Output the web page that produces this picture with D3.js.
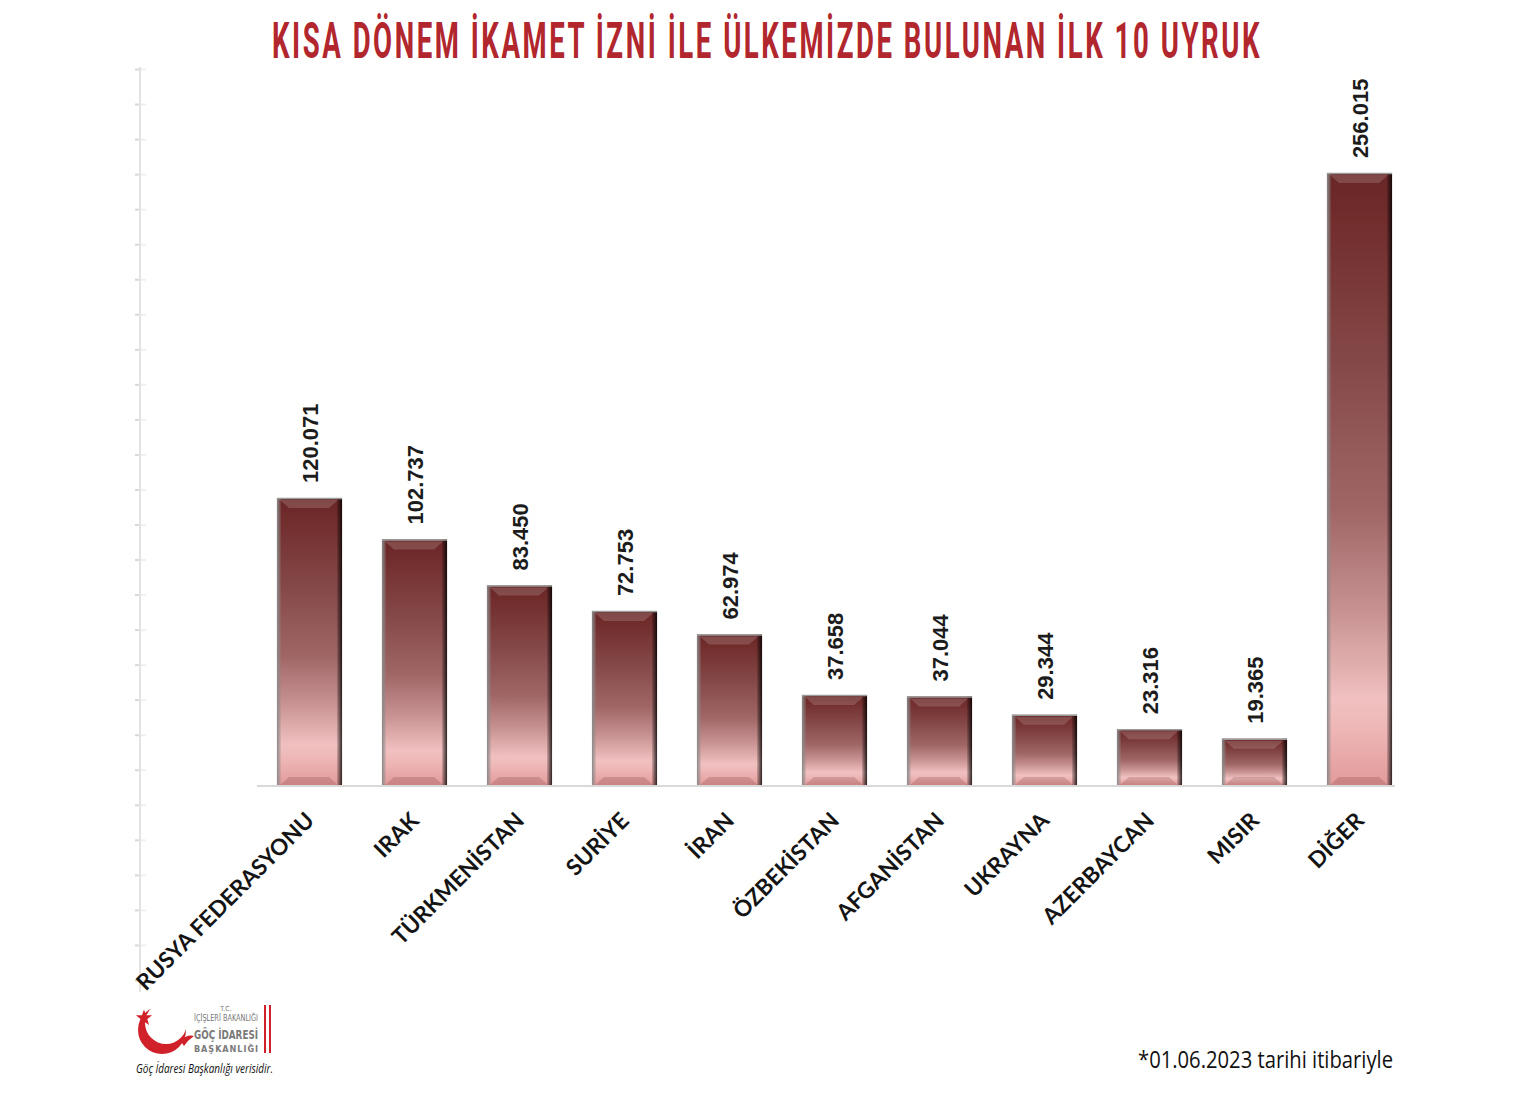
<!DOCTYPE html>
<html>
<head>
<meta charset="utf-8">
<script src="https://cdn.jsdelivr.net/npm/d3@7"></script>
<style>
  html, body { margin: 0; padding: 0; background: #ffffff; }
  svg { display: block; }
</style>
</head>
<body>
<svg id="chart" width="1530" height="1107"></svg>
<script>
// ---------- data ----------
const categories = ["RUSYA FEDERASYONU", "IRAK", "TÜRKMENİSTAN", "SURİYE", "İRAN",
  "ÖZBEKİSTAN", "AFGANİSTAN", "UKRAYNA", "AZERBAYCAN", "MISIR", "DİĞER"];
const values = [120071, 102737, 83450, 72753, 62974, 37658, 37044, 29344, 23316, 19365, 256015];
const decoTicks = d3.range(0, 27); // decorative left axis tick positions (no labels)

const titleText = "KISA DÖNEM İKAMET İZNİ İLE ÜLKEMİZDE BULUNAN İLK 10 UYRUK";
const footnoteText = "*01.06.2023 tarihi itibariyle";
const sourceText = "Göç İdaresi Başkanlığı verisidir.";

const data = categories.map((c, i) => ({ cat: c, val: values[i] }));

// ---------- setup ----------
const svg = d3.select("#chart");
const fmt = d3.formatLocale({ decimal: ",", thousands: ".", grouping: [3], currency: ["", ""] }).format(",d");

const x = d3.scaleBand().domain(categories).range([257, 1412]).paddingInner(0.38).paddingOuter(0.19);
const y = d3.scaleLinear().domain([0, 300000]).range([785, 68]);
const yDeco = d3.scaleLinear().domain([0, 26]).range([980, 69]);

// ---------- defs ----------
const defs = svg.append("defs");
const g1 = defs.append("linearGradient").attr("id", "barGrad").attr("x1", 0).attr("y1", 0).attr("x2", 0).attr("y2", 1);
[[0, "#692626"], [0.08, "#722d2d"], [0.3, "#844747"], [0.55, "#a06666"], [0.72, "#c99393"],
 [0.86, "#f1c0c0"], [0.91, "#eeb6b6"], [1, "#e29a9a"]].forEach(([o, c]) =>
  g1.append("stop").attr("offset", o).attr("stop-color", c));

const g2 = defs.append("linearGradient").attr("id", "rightEdge").attr("x1", 0).attr("y1", 0).attr("x2", 1).attr("y2", 0);
g2.append("stop").attr("offset", 0).attr("stop-color", "#000").attr("stop-opacity", 0.15);
g2.append("stop").attr("offset", 1).attr("stop-color", "#000").attr("stop-opacity", 0.8);

const g3 = defs.append("linearGradient").attr("id", "leftEdge").attr("x1", 0).attr("y1", 0).attr("x2", 1).attr("y2", 0);
g3.append("stop").attr("offset", 0).attr("stop-color", "#8a8a8a").attr("stop-opacity", 1);
g3.append("stop").attr("offset", 1).attr("stop-color", "#8a8a8a").attr("stop-opacity", 0.2);

// ---------- title (condensed look: vertical stretch + spacing) ----------
svg.append("text")
  .attr("transform", "translate(767,58) scale(1,1.55)")
  .attr("text-anchor", "middle")
  .attr("font-family", "Roboto, 'DejaVu Sans Condensed', sans-serif")
  .attr("font-weight", 700)
  .attr("font-size", 32.5)
  .attr("letter-spacing", 3)
  .attr("textLength", 990)
  .attr("lengthAdjust", "spacingAndGlyphs")
  .attr("fill", "#b2262d")
  .text(titleText);

// ---------- decorative left axis ----------
const deco = svg.append("g").attr("transform", "translate(140,0)")
  .call(d3.axisLeft(yDeco).tickValues(decoTicks).tickSize(5).tickFormat(""));
deco.select(".domain").remove();
deco.selectAll(".tick line").attr("stroke", "#d8d8d8").attr("stroke-width", 2);
deco.selectAll(".tick").append("line").attr("x1", 0).attr("x2", 6).attr("stroke", "#f0f0f0").attr("stroke-width", 2);
svg.append("line").attr("x1", 140).attr("x2", 140).attr("y1", yDeco(26) - 2).attr("y2", yDeco(0) + 12)
  .attr("stroke", "#e3e3e3").attr("stroke-width", 2);

// ---------- baseline ----------
svg.append("line").attr("x1", 257).attr("x2", 1395).attr("y1", y(0) + 1).attr("y2", y(0) + 1)
  .attr("stroke", "#d9d9d9").attr("stroke-width", 2);

// ---------- bars ----------
const bars = svg.append("g").selectAll("g.bar").data(data).join("g").attr("class", "bar");
bars.each(function (d) {
  const g = d3.select(this);
  const bx = x(d.cat), bw = x.bandwidth();
  const by = y(d.val), bh = y(0) - y(d.val);
  g.append("rect").attr("x", bx).attr("y", by).attr("width", bw).attr("height", bh).attr("fill", "url(#barGrad)");
  g.append("path")
    .attr("d", `M${bx + 3},${by + 2} L${bx + bw - 4},${by + 2} L${bx + bw - 13},${by + 10} L${bx + 12},${by + 10} Z`)
    .attr("fill", "#ffffff").attr("opacity", 0.16);
  g.append("path")
    .attr("d", `M${bx + 3},${by + bh} L${bx + bw - 4},${by + bh} L${bx + bw - 13},${by + bh - 8} L${bx + 12},${by + bh - 8} Z`)
    .attr("fill", "#5a1a1a").attr("opacity", 0.18);
  g.append("rect").attr("x", bx).attr("y", by).attr("width", 4).attr("height", bh).attr("fill", "url(#leftEdge)");
  g.append("rect").attr("x", bx + bw - 5).attr("y", by).attr("width", 5).attr("height", bh).attr("fill", "url(#rightEdge)");
  g.append("line").attr("x1", bx).attr("x2", bx + bw).attr("y1", by + 0.5).attr("y2", by + 0.5)
    .attr("stroke", "#9a9a9a").attr("stroke-width", 1.5);
});

// ---------- value labels ----------
svg.append("g").selectAll("text").data(data).join("text")
  .attr("transform", d => `translate(${x(d.cat) + x.bandwidth() / 2 + 8},${y(d.val) - 15}) rotate(-90)`)
  .attr("text-anchor", "start")
  .attr("font-family", "'Liberation Sans', Arial, sans-serif")
  .attr("font-weight", 700)
  .attr("font-size", 22)
  .attr("fill", "#1c1c1c")
  .text(d => fmt(d.val));

// ---------- category labels ----------
svg.append("g").selectAll("text").data(data).join("text")
  .attr("transform", d => `translate(${x(d.cat) + x.bandwidth() / 2 + 6},${y(0) + 37}) rotate(-45)`)
  .attr("text-anchor", "end")
  .attr("font-family", "Lato, 'Open Sans', sans-serif")
  .attr("font-weight", 700)
  .attr("font-size", 22.5)
  .attr("fill", "#141414")
  .text(d => d.cat);

// ---------- footnote ----------
svg.append("text")
  .attr("x", 1393).attr("y", 1068)
  .attr("text-anchor", "end")
  .attr("font-family", "'Open Sans', sans-serif")
  .attr("font-size", 23)
  .attr("textLength", 255)
  .attr("lengthAdjust", "spacingAndGlyphs")
  .attr("fill", "#111")
  .text(footnoteText);

// ---------- logo ----------
const logo = svg.append("g");
logo.append("circle").attr("cx", 162).attr("cy", 1030).attr("r", 24).attr("fill", "#d0202a");
logo.append("circle").attr("cx", 166).attr("cy", 1023).attr("r", 21).attr("fill", "#ffffff");
logo.append("path").attr("d", "M180,1040 Q188,1034 194,1036 Q188,1040 184,1046 Z").attr("fill", "#d0202a");
const star = d3.range(10).map(i => {
  const r = i % 2 === 0 ? 8.5 : 3.5;
  const a = -Math.PI / 2 + i * Math.PI / 5;
  return [144 + r * Math.cos(a), 1018 + r * Math.sin(a)];
});
logo.append("path").attr("d", "M" + star.map(p => p.join(",")).join("L") + "Z").attr("fill", "#d0202a");

const lf = "'DejaVu Sans Condensed', 'DejaVu Sans', sans-serif";
logo.append("text").attr("x", 226).attr("y", 1011).attr("text-anchor", "middle").attr("font-family", lf)
  .attr("font-size", 7).attr("fill", "#777").text("T.C.");
logo.append("text").attr("x", 226).attr("y", 1021).attr("text-anchor", "middle").attr("font-family", lf)
  .attr("font-size", 8).attr("textLength", 64).attr("lengthAdjust", "spacingAndGlyphs").attr("fill", "#777").text("İÇİŞLERİ BAKANLIĞI");
logo.append("text").attr("x", 226).attr("y", 1039).attr("text-anchor", "middle").attr("font-family", lf)
  .attr("font-size", 13).attr("font-weight", 700).attr("textLength", 64).attr("lengthAdjust", "spacingAndGlyphs").attr("fill", "#7a7a7a").text("GÖÇ İDARESİ");
logo.append("text").attr("x", 226).attr("y", 1052).attr("text-anchor", "middle").attr("font-family", lf)
  .attr("font-size", 9).attr("font-weight", 700).attr("textLength", 64).attr("lengthAdjust", "spacing").attr("fill", "#7a7a7a").text("BAŞKANLIĞI");
logo.append("rect").attr("x", 264).attr("y", 1005).attr("width", 2).attr("height", 48).attr("fill", "#d0202a");
logo.append("rect").attr("x", 269).attr("y", 1005).attr("width", 2).attr("height", 48).attr("fill", "#d0202a");
svg.append("text").attr("x", 136).attr("y", 1073).attr("font-family", "'Open Sans', sans-serif")
  .attr("font-style", "italic").attr("font-size", 12).attr("textLength", 137).attr("lengthAdjust", "spacingAndGlyphs")
  .attr("fill", "#111").text(sourceText);
</script>
</body>
</html>
